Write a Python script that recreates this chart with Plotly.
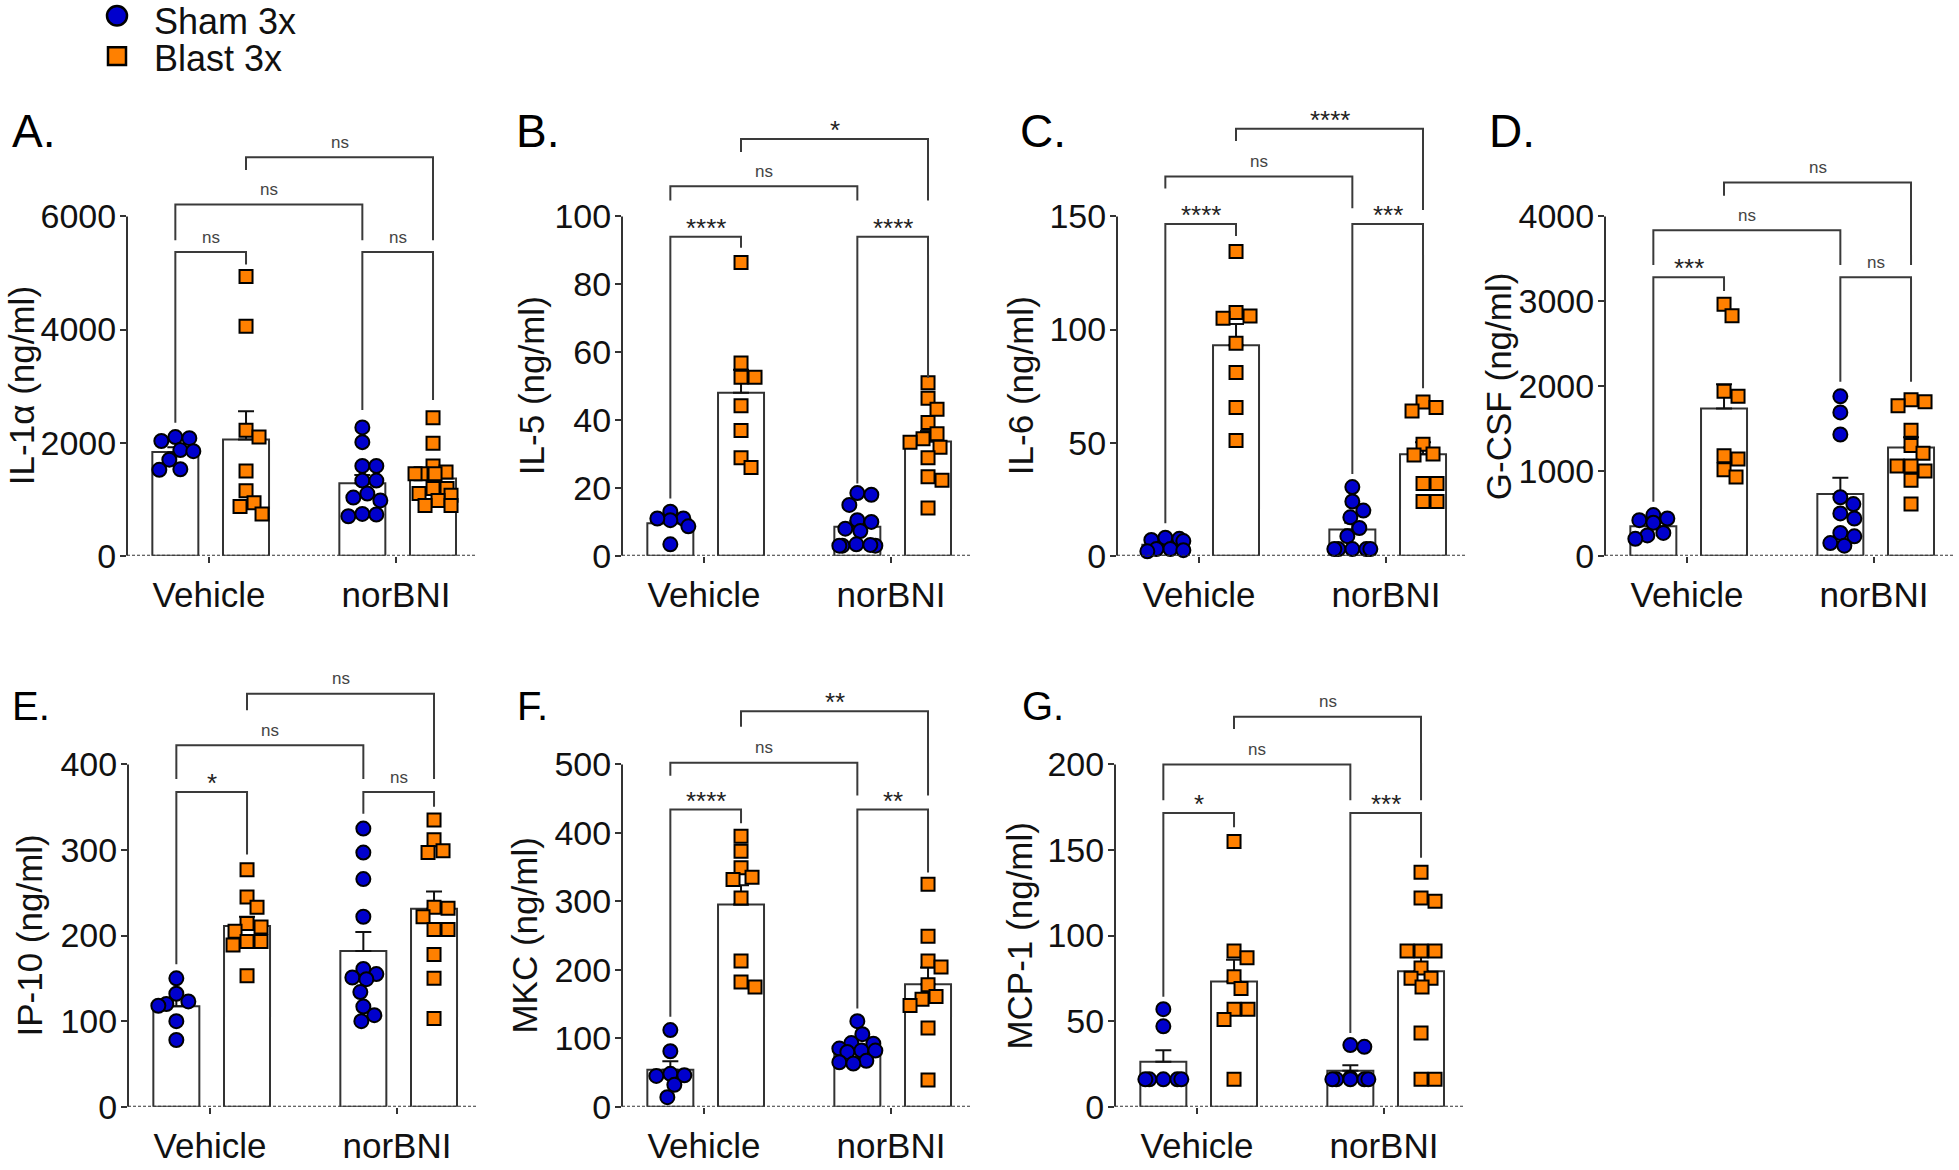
import numpy as np
import plotly.graph_objects as go

# ---------------- data ----------------
categories = ["Vehicle", "norBNI"]
group_names = ["Sham 3x", "Blast 3x"]

# A. IL-1a
il1a_sham_vehicle = [2100, 2080, 2030, 1870, 1850, 1700, 1530, 1520]
il1a_blast_vehicle = [4940, 4060, 2220, 2100, 1500, 1150, 940, 870, 740]
il1a_sham_norbni = [2270, 2010, 1590, 1590, 1330, 1330, 1100, 1030, 980, 740, 730, 700]
il1a_blast_norbni = [2440, 1990, 1590, 1480, 1450, 1450, 1450, 1190, 1190, 1100, 1070, 980, 890, 890]
il1a_ticks = [0, 2000, 4000, 6000]
il1a_sig = ["ns", "ns", "ns", "ns"]

# B. IL-5
il5_sham_vehicle = [13, 11, 10.5, 11, 8.7, 3.4]
il5_blast_vehicle = [86.4, 56.8, 52.6, 52.6, 44.2, 36.9, 28.9, 26.0]
il5_sham_norbni = [18.5, 18, 15, 10.5, 10, 8, 7.3, 3.4, 3, 3, 3.2, 3]
il5_blast_norbni = [51, 46.4, 43.2, 39.3, 36, 34.5, 32, 33.5, 28.9, 23.3, 22.3, 14.1]
il5_ticks = [0, 20, 40, 60, 80, 100]
il5_sig = ["****", "****", "ns", "*"]

# C. IL-6
il6_sham_vehicle = [8, 7.5, 7, 6.5, 3, 3, 2.5, 2]
il6_blast_vehicle = [134.5, 107.5, 106, 105, 94, 81, 65.5, 51]
il6_sham_norbni = [30.4, 24, 20, 17, 12.3, 8.7, 3, 3, 3, 3, 3]
il6_blast_norbni = [68, 65.5, 64, 49.3, 45, 44.6, 32, 32, 24, 24]
il6_ticks = [0, 50, 100, 150]
il6_sig = ["****", "***", "ns", "****"]

# D. G-CSF
gcsf_sham_vehicle = [480, 440, 420, 390, 270, 240, 200]
gcsf_blast_vehicle = [2965, 2830, 1940, 1880, 1180, 1140, 1015, 930]
gcsf_sham_norbni = [1880, 1690, 1430, 690, 610, 500, 440, 270, 230, 150, 120]
gcsf_blast_norbni = [1840, 1815, 1770, 1480, 1300, 1210, 1060, 1060, 1000, 890, 610]
gcsf_ticks = [0, 1000, 2000, 3000, 4000]
gcsf_sig = ["***", "ns", "ns", "ns"]

# E. IP-10
ip10_sham_vehicle = [150, 132, 123, 120, 118, 100, 78]
ip10_blast_vehicle = [277, 245, 233, 214, 210, 205, 193, 193, 189, 153]
ip10_sham_norbni = [325, 297, 266, 222, 161, 155, 151, 149, 134, 117, 107, 100]
ip10_blast_norbni = [335, 312, 299, 297, 233, 232, 222, 207, 207, 178, 150, 103]
ip10_ticks = [0, 100, 200, 300, 400]
ip10_sig = ["*", "ns", "ns", "ns"]

# F. MKC
mkc_sham_vehicle = [112, 81, 48, 46, 45, 32, 14]
mkc_blast_vehicle = [395, 373, 349, 335, 332, 305, 213, 182, 175]
mkc_sham_norbni = [125, 106, 93, 92, 85, 82, 82, 80, 67, 65, 63]
mkc_blast_norbni = [325, 249, 213, 204, 178, 161, 157, 148, 115, 39]
mkc_ticks = [0, 100, 200, 300, 400, 500]
mkc_sig = ["****", "**", "ns", "**"]

# G. MCP-1
mcp1_sham_vehicle = [57, 47, 16, 16, 16, 16, 16]
mcp1_blast_vehicle = [155, 91, 87, 76, 69, 57, 57, 51, 16]
mcp1_sham_norbni = [36, 35, 17, 16, 16, 16, 16, 16]
mcp1_blast_norbni = [137, 122, 120, 91, 91, 91, 81, 75, 75, 70, 43, 16, 16]
mcp1_ticks = [0, 50, 100, 150, 200]
mcp1_sig = ["*", "***", "ns", "ns"]

panels = [
    ("A.", "IL-1\u03b1 (ng/ml)", il1a_ticks,
     [il1a_sham_vehicle, il1a_blast_vehicle, il1a_sham_norbni, il1a_blast_norbni], il1a_sig),
    ("B.", "IL-5 (ng/ml)", il5_ticks,
     [il5_sham_vehicle, il5_blast_vehicle, il5_sham_norbni, il5_blast_norbni], il5_sig),
    ("C.", "IL-6 (ng/ml)", il6_ticks,
     [il6_sham_vehicle, il6_blast_vehicle, il6_sham_norbni, il6_blast_norbni], il6_sig),
    ("D.", "G-CSF (ng/ml)", gcsf_ticks,
     [gcsf_sham_vehicle, gcsf_blast_vehicle, gcsf_sham_norbni, gcsf_blast_norbni], gcsf_sig),
    ("E.", "IP-10 (ng/ml)", ip10_ticks,
     [ip10_sham_vehicle, ip10_blast_vehicle, ip10_sham_norbni, ip10_blast_norbni], ip10_sig),
    ("F.", "MKC (ng/ml)", mkc_ticks,
     [mkc_sham_vehicle, mkc_blast_vehicle, mkc_sham_norbni, mkc_blast_norbni], mkc_sig),
    ("G.", "MCP-1 (ng/ml)", mcp1_ticks,
     [mcp1_sham_vehicle, mcp1_blast_vehicle, mcp1_sham_norbni, mcp1_blast_norbni], mcp1_sig),
]

# ---------------- layout / style ----------------
W, H = 1959, 1170
BLUE = "#0000CD"
ORANGE = "#FF8000"
INK = "#111111"
AX = "#333333"
BR = "#3a3a3a"
FONT = "Liberation Sans, Arial, sans-serif"

# left px, zero px, top-tick px, domain top px, y-title x px, letter x px, letter y px, letter size
geom = [
    (127, 565, 220, 95, 21, 10, 133, 46),
    (622, 565, 220, 95, 531, 514, 133, 46),
    (1117, 565, 220, 95, 1020, 1018, 133, 46),
    (1605, 565, 220, 95, 1498, 1487, 133, 46),
    (128, 1125, 777, 660, 30, 10, 718, 40),
    (622, 1125, 777, 660, 525, 515, 718, 40),
    (1115, 1125, 777, 660, 1020, 1020, 718, 40),
]
PANEL_W = 348
PX_PER_X = 187.0
XR = [-82 / PX_PER_X, (PANEL_W - 82) / PX_PER_X]
BAR_OFF = [-0.18, 0.198]
BAR_W = 0.246

# bracket geometry as fractions of top tick: (line, left leg bottom, right leg bottom)
bracket_geom = [
    [(0.895, 0.392, 0.858), (0.895, 0.430, 0.459), (1.035, 0.930, 0.930), (1.174, 1.137, 0.930)],
    [(0.940, 0.169, 0.908), (0.940, 0.213, 0.525), (1.089, 1.047, 1.047), (1.228, 1.190, 1.047)],
    [(0.978, 0.096, 0.942), (0.978, 0.241, 0.494), (1.118, 1.082, 1.024), (1.258, 1.222, 1.019)],
    [(0.821, 0.159, 0.780), (0.821, 0.513, 0.513), (0.959, 0.857, 0.857), (1.100, 1.061, 0.857)],
    [(0.919, 0.416, 0.737), (0.919, 0.856, 0.876), (1.056, 0.957, 0.957), (1.206, 1.158, 0.957)],
    [(0.868, 0.263, 0.828), (0.868, 0.287, 0.684), (1.005, 0.967, 0.909), (1.155, 1.110, 0.909)],
    [(0.858, 0.321, 0.816), (0.858, 0.215, 0.727), (1.000, 0.895, 0.895), (1.139, 1.103, 0.895)],
]
pairs = [(0, 1), (2, 3), (0, 2), (1, 3)]


def swarm(vals, px_y, D=14.0, maxw=18):
    """Deterministic beeswarm offsets (in x data units)."""
    vals = np.asarray(vals, float)
    order = np.argsort(-vals, kind="stable")
    cands = [0]
    for k in range(1, maxw + 1):
        cands += [k, -k]
    placed = []
    out = np.zeros(len(vals))
    for idx in order:
        y = vals[idx] * px_y
        best = None
        for dx in cands:
            cost = 0.0
            for (px, py) in placed:
                d = np.hypot(dx - px, y - py)
                if d < D:
                    cost += D - d
            if best is None or cost < best[0] - 1e-9:
                best = (cost, dx)
            if cost == 0:
                break
        out[idx] = best[1]
        placed.append((best[1], y))
    return out / PX_PER_X


fig = go.Figure()
layout = dict(
    width=W, height=H,
    margin=dict(l=0, r=0, t=0, b=0),
    paper_bgcolor="white", plot_bgcolor="white",
    showlegend=False,
    font=dict(family=FONT, color=INK),
)
shapes = []
annotations = []

for i, (letter, ytitle, ticks, groups, sig) in enumerate(panels):
    n = i + 1
    sfx = "" if n == 1 else str(n)
    xname, yname = "x" + sfx, "y" + sfx
    L, zero, top, dtop, tx, lx, ly, lsize = geom[i]
    T = ticks[-1]
    px_y = (zero - top) / T
    ymax = (zero - dtop) / px_y

    layout["xaxis" + sfx] = dict(
        domain=[L / W, (L + PANEL_W) / W], range=XR, anchor=yname,
        tickmode="array", tickvals=[0, 1], ticktext=categories,
        ticks="outside", ticklen=6, tickwidth=2, tickcolor=AX,
        ticklabelstandoff=2,
        showline=False, showgrid=False, zeroline=False, fixedrange=True,
        tickfont=dict(size=35, color=INK, family=FONT),
    )
    layout["yaxis" + sfx] = dict(
        domain=[1 - zero / H, 1 - dtop / H], range=[0, ymax], anchor=xname,
        tickmode="array", tickvals=ticks, ticktext=[str(t) for t in ticks],
        ticks="outside", ticklen=6, tickwidth=2, tickcolor=AX,
        ticklabelstandoff=-3,
        showline=False, showgrid=False, zeroline=False, fixedrange=True,
        tickfont=dict(size=34, color=INK, family=FONT),
    )

    # bars: mean +/- SEM
    xs = [c + BAR_OFF[g] for c in (0, 1) for g in (0, 1)]
    means = [float(np.mean(v)) for v in groups]
    sems = [float(np.std(v, ddof=1) / np.sqrt(len(v))) for v in groups]
    fig.add_trace(go.Bar(
        x=xs, y=means, width=BAR_W, xaxis=xname, yaxis=yname,
        marker=dict(color="white", line=dict(color=AX, width=2)),
        error_y=dict(type="data", symmetric=False, array=sems, arrayminus=[0] * 4,
                     color=INK, thickness=2, width=8),
        hoverinfo="skip",
    ))

    # points
    for g, (col, sym, size) in enumerate([(BLUE, "circle", 14), (ORANGE, "square", 13)]):
        px, py = [], []
        for c in (0, 1):
            vals = groups[2 * c + g]
            offs = swarm(vals, px_y)
            px += list(c + BAR_OFF[g] + offs)
            py += list(vals)
        fig.add_trace(go.Scatter(
            x=px, y=py, mode="markers", xaxis=xname, yaxis=yname,
            name=group_names[g], cliponaxis=False,
            marker=dict(symbol=sym, size=size, color=col, line=dict(color="black", width=2)),
        ))

    # y axis line (only up to top tick) and dotted baseline
    shapes.append(dict(type="line", xref=xname + " domain", yref=yname,
                       x0=0, x1=0, y0=0, y1=T, line=dict(color=AX, width=2)))
    shapes.append(dict(type="line", xref=xname + " domain", yref=yname,
                       x0=0, x1=1, y0=0, y1=0, line=dict(color=AX, width=2, dash="3px,2px")))

    # significance brackets
    for k, (a, b) in enumerate(pairs):
        yl, yb1, yb2 = [f * T for f in bracket_geom[i][k]]
        xa, xb = xs[a], xs[b]
        shapes.append(dict(type="path", xref=xname, yref=yname,
                           path=f"M {xa},{yb1} L {xa},{yl} L {xb},{yl} L {xb},{yb2}",
                           line=dict(color=BR, width=2)))
        lab = sig[k]
        star = lab.startswith("*")
        annotations.append(dict(
            x=(xa + xb) / 2, y=yl, xref=xname, yref=yname, text=lab, showarrow=False,
            xanchor="center", yanchor="middle", yshift=9 if star else 15,
            font=dict(size=26 if star else 17, color="#222" if star else "#444", family=FONT),
        ))

    # y title
    annotations.append(dict(
        x=tx / W, y=1 - ((zero + top) / 2) / H, xref="paper", yref="paper",
        text=ytitle, textangle=-90, showarrow=False, xanchor="center", yanchor="middle",
        font=dict(size=35, color=INK, family=FONT),
    ))
    # panel letter
    annotations.append(dict(
        x=lx / W, y=1 - ly / H, xref="paper", yref="paper", text=letter, showarrow=False,
        xanchor="left", yanchor="middle", font=dict(size=lsize, color="black", family=FONT),
    ))

# legend (drawn manually)
shapes.append(dict(type="circle", xref="paper", yref="paper",
                   x0=107 / W, x1=127 / W, y0=1 - 26 / H, y1=1 - 6 / H,
                   fillcolor=BLUE, line=dict(color="black", width=2.5)))
shapes.append(dict(type="rect", xref="paper", yref="paper",
                   x0=108 / W, x1=126 / W, y0=1 - 66 / H, y1=1 - 48 / H,
                   fillcolor=ORANGE, line=dict(color="black", width=2.5)))
for txt, yy in zip(group_names, (22, 59)):
    annotations.append(dict(x=152 / W, y=1 - yy / H, xref="paper", yref="paper", text=txt,
                            showarrow=False, xanchor="left", yanchor="middle",
                            font=dict(size=36, color=INK, family=FONT)))

layout["shapes"] = shapes
layout["annotations"] = annotations
fig.update_layout(**layout)

fig.write_html(
    "out.html", include_plotlyjs=True, config={"displayModeBar": False},
    post_script=(
        "document.documentElement.style.margin='0';"
        "document.body.style.margin='0';document.body.style.overflow='hidden';"
        "var d=document.getElementById('{plot_id}');"
        "d.style.position='fixed';d.style.top='0px';d.style.left='0px';"
    ),
)
